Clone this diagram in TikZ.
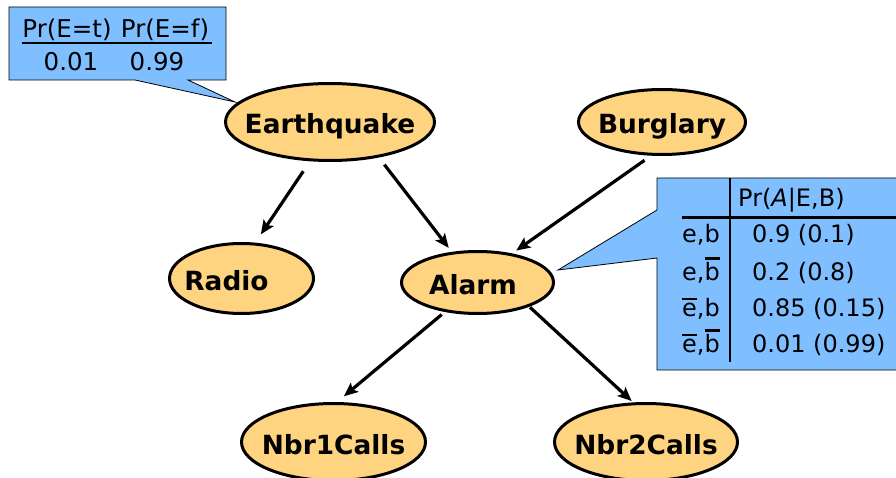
\documentclass[tikz,border=0pt]{standalone}
\usepackage{fontspec}
\setmainfont{DejaVu Sans}
\usetikzlibrary{arrows.meta,shapes.geometric}
\definecolor{nodefill}{HTML}{FFD480}
\definecolor{callblue}{HTML}{80BFFF}
\newcommand\ovl[1]{\leavevmode\vbox{\hrule height 2.6pt\kern 2.2pt\hbox{#1}}}
\newcommand\lbl[2][0pt]{\makebox[0pt]{\hspace*{#1}#2}}
\begin{document}
\begin{tikzpicture}[x=1pt,y=-1pt,
  bn/.style={ellipse, draw=black, line width=3pt, fill=nodefill, inner sep=0pt,
    text height=24pt, text depth=0pt,
    font=\fontsize{26.4}{30}\selectfont\bfseries},
  arr/.style={line width=3.2pt, -{Stealth[length=14pt,width=12pt,inset=3pt]}},
  cbox/.style={fill=callblue, draw=black, line width=0.8pt, line join=miter},
  ctxa/.style={inner sep=0pt, anchor=base, font=\fontsize{24.5}{28}\selectfont},
  ctxb/.style={inner sep=0pt, font=\fontsize{24}{28}\selectfont},
]
\useasboundingbox (0,0) rectangle (896,478);
% callout 1
\draw[cbox] (9,7) -- (226,7) -- (226,80) -- (188,80) -- (235,102) -- (135,80) -- (9,80) -- cycle;
\node[ctxa] (h1) at (67,38) {Pr(E=t)};
\node[ctxa] (h2) at (165,38) {Pr(E=f)};
\draw[line width=2pt] (22,43) -- (212,43);
\node[ctxa] (v1) at (71,71) {0.01};
\node[ctxa] (v2) at (157,71) {0.99};
% callout 2
\draw[cbox] (657,178) -- (898,178) -- (898,370) -- (657,370) -- (657,258) -- (558,270) -- (657,210) -- cycle;
\draw[line width=2pt] (730,178) -- (730,362);
\draw[line width=3pt] (682,218) -- (898,218);
\node[ctxb, anchor=base west] (th) at (738,207) {Pr(\textit{A}|E,B)};
\node[ctxb, anchor=base east] (r1) at (720,243) {e,b};
\node[ctxb, anchor=base east] (r2) at (720,280) {e,\ovl{b}};
\node[ctxb, anchor=base east] (r3) at (720,316) {\ovl{e},b};
\node[ctxb, anchor=base east] (r4) at (720,352) {\ovl{e},\ovl{b}};
\node[ctxb, anchor=base west] (p1) at (752,243) {0.9 (0.1)};
\node[ctxb, anchor=base west] (p2) at (752,280) {0.2 (0.8)};
\node[ctxb, anchor=base west] (p3) at (752,316) {0.85 (0.15)};
\node[ctxb, anchor=base west] (p4) at (752,352) {0.01 (0.99)};
% nodes
\node[bn, minimum width=209pt, minimum height=77pt] (eq) at (330,122) {\lbl{Earthquake}};
\node[bn, minimum width=167pt, minimum height=65pt] (burg) at (662,122) {\lbl{Burglary}};
\node[bn, minimum width=144pt, minimum height=70pt] (radio) at (241.5,278.5) {\lbl[-30pt]{Radio}};
\node[bn, minimum width=152pt, minimum height=62pt] (alarm) at (477.5,282.5) {\lbl[-9pt]{Alarm}};
\node[bn, minimum width=184pt, minimum height=77pt] (nbr1) at (333.5,442) {\lbl{Nbr1Calls}};
\node[bn, minimum width=183pt, minimum height=77pt] (nbr2) at (646,442) {\lbl{Nbr2Calls}};
% arrows
\draw[arr, shorten <=12pt, shorten >=10pt] (eq.243) -- (radio.69);
\draw[arr, shorten <=9pt, shorten >=5pt] (eq.324) -- (alarm.130);
\draw[arr, shorten <=8pt, shorten >=5pt] (burg.252) -- (alarm.40);
\draw[arr, shorten <=4pt, shorten >=9pt] (alarm.222) -- (nbr1.85);
\draw[arr, shorten <=1pt, shorten >=2pt] (alarm.335) -- (nbr2.108);
\end{tikzpicture}
\end{document}
